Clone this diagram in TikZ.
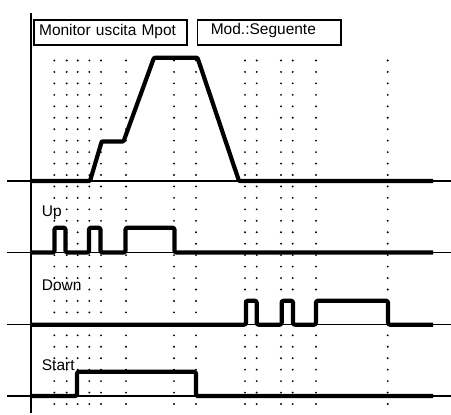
\documentclass[tikz,border=0pt]{standalone}
\usepackage{fontspec}
\setmainfont{Liberation Sans}

\begin{document}
\begin{tikzpicture}[
  x=1pt, y=-1pt,
  titlebox/.style={
    draw, line width=1.6pt, anchor=north west, align=left,
    inner ysep=0pt, font=\fontsize{15.5}{18}\selectfont},
  siglbl/.style={anchor=base west, inner sep=0pt,
    font=\fontsize{15.5}{18}\selectfont},
  sig/.style={line width=4.2pt, line join=round, rounded corners=2pt},
  zeroline/.style={line width=1.2pt},
  axisline/.style={line width=1.6pt},
  gdot/.style={fill=black},
]
\useasboundingbox (0,0) rectangle (451,415);

%% ---- Dotted time grid ----
\foreach \cx in {54.3,66.7,77.7,89.3,101,126,174,196,245,256.7,281,292.7,316,387.7}
  \foreach \k in {0,...,30}
    \fill[gdot] (\cx,{60.5+11.45*\k}) circle (1.05);

%% ---- Zero lines ----
\draw[zeroline] (7,181) -- (451,181);
\draw[zeroline] (7,252.5) -- (451,252.5);
\draw[zeroline] (7,324.7) -- (451,324.7);
\draw[zeroline] (7,396) -- (451,396);

%% ---- Mpot output ----
\draw[sig, rounded corners=1pt] (31,181) -- (90,181) -- (101.7,141.5)
  -- (123.5,141.5) -- (154,57.7) -- (197.5,57.7) -- (239,181) -- (433,181);

%% ---- Up ----
\draw[sig] (31,252.5) -- (54.5,252.5) -- (54.5,227.7) -- (65.5,227.7)
  -- (65.5,252.5) -- (89,252.5) -- (89,227.7) -- (100.5,227.7)
  -- (100.5,252.5) -- (125.5,252.5) -- (125.5,227.7) -- (174.5,227.7)
  -- (174.5,252.5) -- (433,252.5);

%% ---- Down ----
\draw[sig] (31,324.7) -- (246,324.7) -- (246,300.7) -- (256.7,300.7)
  -- (256.7,324.7) -- (281.7,324.7) -- (281.7,300.7) -- (293,300.7)
  -- (293,324.7) -- (316,324.7) -- (316,300.7) -- (388,300.7)
  -- (388,324.7) -- (433,324.7);

%% ---- Start ----
\draw[sig] (31,396) -- (77,396) -- (77,371.7) -- (196,371.7)
  -- (196,396) -- (433,396);

%% ---- Time axis ----
\draw[axisline] (31,13) -- (31,413);

%% ---- Title boxes ----
\node[titlebox, text width=142.7pt, inner xsep=5pt,
  text height=16pt, text depth=9.3pt] (mon) at (33.3,19) {Monitor uscita Mpot};
\node[titlebox, text width=116.7pt, inner xsep=13.3pt,
  text height=14.3pt, text depth=11pt] (mode) at (196.7,19) {Mod.:Seguente};

%% ---- Signal labels ----
\node[siglbl] (up) at (41.7,216.7) {Up};
\node[siglbl] (down) at (41.7,290) {Down};
\node[siglbl] (start) at (41.7,370) {Start};

\end{tikzpicture}
\end{document}
